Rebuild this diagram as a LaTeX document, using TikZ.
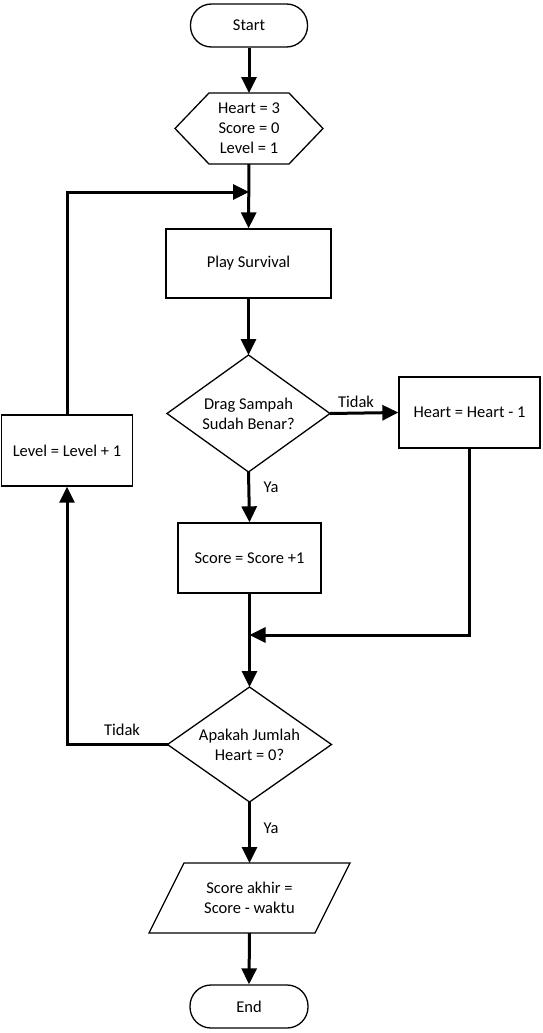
\documentclass[tikz,border=0pt]{standalone}
\usepackage{fontspec}
\setmainfont{Carlito}
\usetikzlibrary{arrows.meta,shapes.geometric,calc}
\tikzset{
  shapeline/.style={draw=black,line width=1.3pt},
  boxnode/.style={shapeline,rectangle,inner sep=0pt,align=center},
  termnode/.style={shapeline,rectangle,rounded corners=21pt,inner sep=0pt,align=center},
  plainnode/.style={inner sep=0pt,outer sep=0pt,align=center},
  conn/.style={line width=3pt,-{Triangle[length=16pt,width=15pt]}},
  connplain/.style={line width=3pt},
  lbl/.style={inner sep=0pt}
}
\begin{document}
\begin{tikzpicture}[x=1pt,y=-1pt,font=\fontsize{16.5}{20}\selectfont]
\useasboundingbox (0,0) rectangle (542,1033);
% nodes
\node[termnode,minimum width=117pt,minimum height=43pt] (start) at (249,25.5) {Start};
\node[plainnode,minimum width=148pt,minimum height=71pt] (init) at (249,128.5) {Heart = 3\\Score = 0\\Level = 1};
\draw[shapeline] (init.west) -- ($(init.north west)+(34,0)$) -- ($(init.north east)+(-34,0)$) -- (init.east) -- ($(init.south east)+(-34,0)$) -- ($(init.south west)+(34,0)$) -- cycle;
\node[boxnode,minimum width=165pt,minimum height=69pt] (play) at (248.5,263.5) {Play Survival};
\node[plainnode,minimum width=163pt,minimum height=117pt] (d1) at (248.5,413.5) {Drag Sampah\\Sudah Benar?};
\draw[shapeline] (d1.west) -- (d1.north) -- (d1.east) -- (d1.south) -- cycle;
\node[boxnode,minimum width=141pt,minimum height=71pt] (heart) at (469.5,412.5) {Heart = Heart - 1};
\node[boxnode,minimum width=143pt,minimum height=70pt] (score) at (249.5,558) {Score = Score +1};
\node[plainnode,minimum width=164pt,minimum height=115pt] (d2) at (249.5,744.5) {Apakah Jumlah\\Heart = 0?};
\draw[shapeline] (d2.west) -- (d2.north) -- (d2.east) -- (d2.south) -- cycle;
\node[boxnode,minimum width=131pt,minimum height=71pt] (level) at (67,450.5) {Level = Level + 1};
\node[plainnode,minimum width=166pt,minimum height=70pt] (out) at (249.5,898) {Score akhir =\\Score - waktu};
\draw[shapeline] ($(out.center)+(-65.5,-35)$) -- ($(out.center)+(100.5,-35)$) -- ($(out.center)+(65.5,35)$) -- ($(out.center)+(-100.5,35)$) -- cycle;
\node[termnode,minimum width=118pt,minimum height=43pt] (end) at (249,1006.5) {End};
\coordinate (join) at (init.south |- 0,192);
\coordinate (merge) at (score.south |- 0,635);
% connectors
\draw[conn] (start) -- (init);
\draw[conn] (init) -- (play);
\draw[conn] (level.north) |- (join);
\draw[conn] (play) -- (d1.north);
\draw[conn] (d1.east) -- (heart.west);
\draw[conn] (d1.south) -- (score.north);
\draw[conn] (heart.south) |- (merge);
\draw[connplain] (score.south) -- (merge);
\draw[conn] (merge) -- (d2.north);
\draw[conn] (d2.west) -| (level.south);
\draw[conn] (d2.south) -- ($(out.center)+(0,-35)$);
\draw[conn] ($(out.center)+(0,35)$) -- (end.north);
% labels
\node[lbl] (t1) at (356,402) {Tidak};
\node[lbl] (y1) at (271,487) {Ya};
\node[lbl] (t2) at (122,730) {Tidak};
\node[lbl] (y2) at (271,828) {Ya};
\end{tikzpicture}
\end{document}
